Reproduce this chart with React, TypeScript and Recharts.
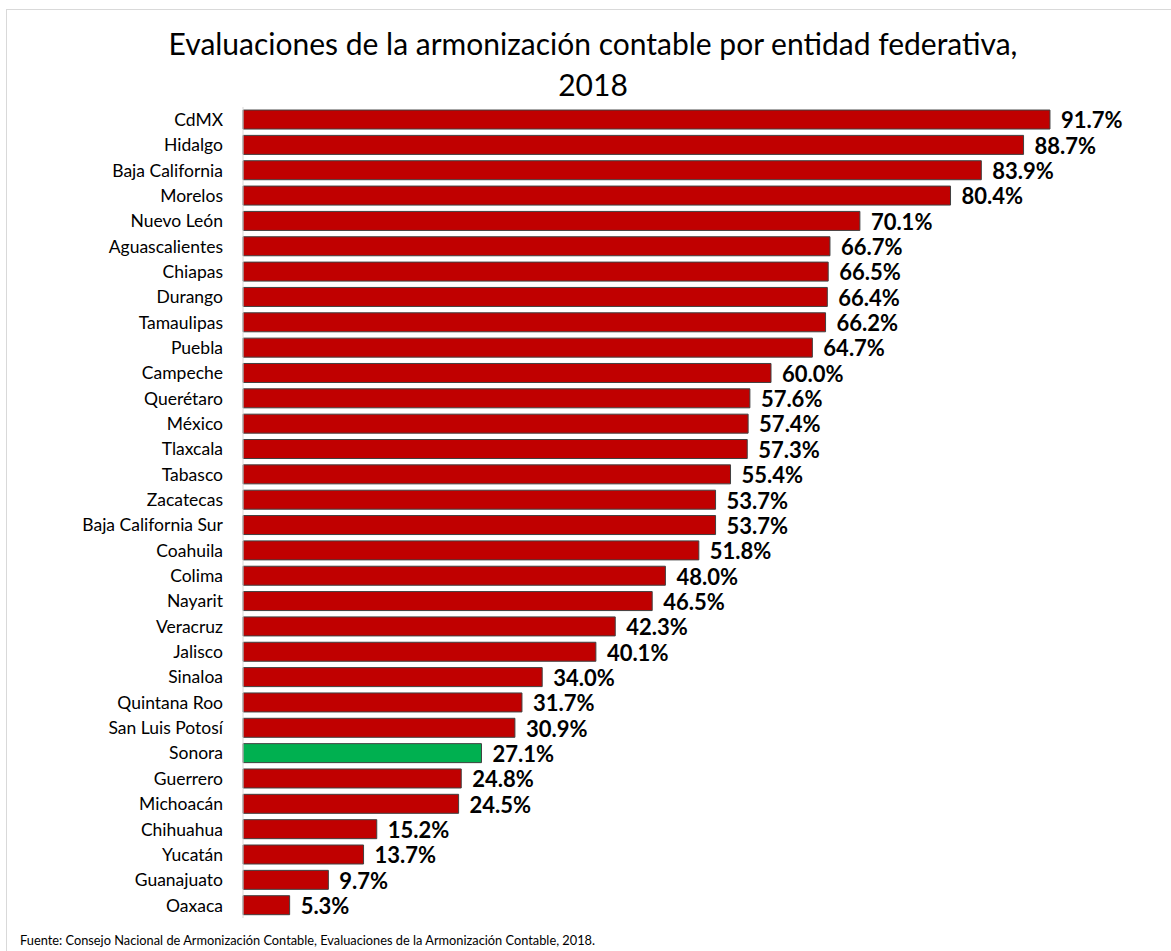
import React from "react";
import { BarChart, Bar, XAxis, YAxis, Cell, LabelList } from "recharts";

// Entidades ordenadas de mayor a menor
const estados = [
  "CdMX", "Hidalgo", "Baja California", "Morelos", "Nuevo León", "Aguascalientes",
  "Chiapas", "Durango", "Tamaulipas", "Puebla", "Campeche", "Querétaro", "México",
  "Tlaxcala", "Tabasco", "Zacatecas", "Baja California Sur", "Coahuila", "Colima",
  "Nayarit", "Veracruz", "Jalisco", "Sinaloa", "Quintana Roo", "San Luis Potosí",
  "Sonora", "Guerrero", "Michoacán", "Chihuahua", "Yucatán", "Guanajuato", "Oaxaca",
];

const porcentajes = [
  91.7, 88.7, 83.9, 80.4, 70.1, 66.7, 66.5, 66.4, 66.2, 64.7, 60.0, 57.6, 57.4,
  57.3, 55.4, 53.7, 53.7, 51.8, 48.0, 46.5, 42.3, 40.1, 34.0, 31.7, 30.9, 27.1,
  24.8, 24.5, 15.2, 13.7, 9.7, 5.3,
];

const destacado = "Sonora";

const ROJO = "#C00000";
const VERDE = "#00B050";
const FONT = "Lato, 'Open Sans', sans-serif";

export default function App() {
  const data = estados.map((name, i) => ({ name, value: porcentajes[i] }));

  return (
    <div style={{ position: "absolute", left: 0, top: 0, width: 1171, height: 951, background: "#fff", overflow: "hidden", fontFamily: FONT }}>
      {/* marco del gráfico */}
      <div style={{ position: "absolute", left: 6, top: 9, width: 1200, height: 1000, border: "1px solid #d9d9d9" }} />

      <div style={{ position: "absolute", left: 0, top: 23, width: 1186, textAlign: "center", fontSize: 30, lineHeight: "41px", color: "#000" }}>
        Evaluaciones de la armonización contable por entidad federativa,
        <br />
        2018
      </div>

      <div style={{ position: "absolute", left: 0, top: 0 }}>
        <BarChart
          width={1171}
          height={951}
          data={data}
          layout="vertical"
          margin={{ top: 107, right: 48, bottom: 33, left: 0 }}
          barCategoryGap="12%"
        >
          <XAxis type="number" domain={[0, 100]} hide />
          <YAxis
            type="category"
            dataKey="name"
            width={243}
            interval={0}
            tickLine={false}
            tickSize={0}
            tickMargin={20}
            axisLine={{ stroke: "#d9d9d9" }}
            tick={{ fontSize: 17.5, fill: "#000", fontFamily: FONT }}
          />
          <Bar dataKey="value" stroke="#404040" strokeWidth={1} isAnimationActive={false}>
            {data.map((d, i) => (
              <Cell key={i} fill={d.name === destacado ? VERDE : ROJO} />
            ))}
            <LabelList
              dataKey="value"
              position="right"
              offset={11}
              formatter={(v: any) => `${Number(v).toFixed(1)}%`}
              style={{ fontSize: 22, fontWeight: 700, fill: "#000", fontFamily: FONT }}
              dy={1}
            />
          </Bar>
        </BarChart>
      </div>

      <div style={{ position: "absolute", left: 20, top: 932, fontSize: 12.8, color: "#000", whiteSpace: "nowrap" }}>
        Fuente: Consejo Nacional de Armonización Contable, Evaluaciones de la Armonización Contable, 2018.
      </div>
    </div>
  );
}
